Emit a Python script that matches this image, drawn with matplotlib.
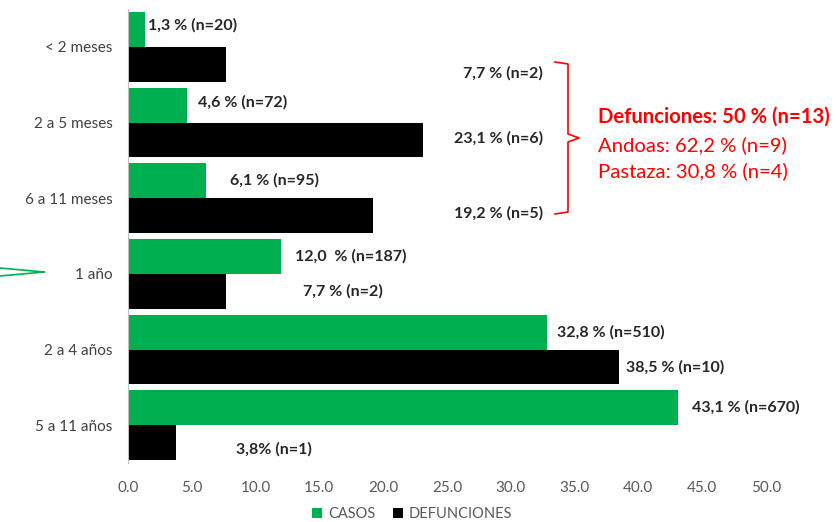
import matplotlib.pyplot as plt
import numpy as np
from matplotlib.lines import Line2D

plt.rcParams['font.family'] = ['Lato', 'DejaVu Sans']

categorias = ['< 2 meses', '2 a 5 meses', '6 a 11 meses', '1 año', '2 a 4 años', '5 a 11 años']
casos = [1.3, 4.6, 6.1, 12.0, 32.8, 43.1]
defunciones = [7.7, 23.1, 19.2, 7.7, 38.5, 3.8]
etiq_casos = ['1,3 % (n=20)', '4,6 % (n=72)', '6,1 % (n=95)', '12,0  % (n=187)',
              '32,8 % (n=510)', '43,1 % (n=670)']
etiq_def = ['7,7 % (n=2)', '23,1 % (n=6)', '19,2 % (n=5)', '7,7 % (n=2)',
            '38,5 % (n=10)', '3,8% (n=1)']
xticks = np.arange(0, 50.1, 5)

# label positions (moved by hand in the original)
lx_casos = [1.6, 5.5, 8.0, 13.1, 33.6, 44.2]
ly_casos = [-0.05, -0.03, 0, 0, 0, 0]
lx_def = [32.5, 32.5, 32.5, 13.7, 39.0, 8.5]
ly_def = [0.12, -0.02, -0.03, 0, 0, 0.09]
ha_def = ['right', 'right', 'right', 'left', 'left', 'left']

verde = '#00B050'
W, H = 836, 522
fig = plt.figure(figsize=(W / 100, H / 100), dpi=100)
ax = fig.add_axes([128 / W, 1 - 463 / H, 638 / W, 454 / H])

y = np.arange(len(categorias))
h = 0.46
ax.barh(y - h / 2, casos, height=h, color=verde, label='CASOS')
ax.barh(y + h / 2, defunciones, height=h, color='black', label='DEFUNCIONES')
ax.set_ylim(len(categorias) - 0.5, -0.5)
ax.set_xlim(0, 50)

for i in range(len(categorias)):
    ax.text(lx_casos[i], y[i] - h / 2 + ly_casos[i], etiq_casos[i], ha='left', va='center',
            fontsize=11.5, fontweight='bold', color='#262626')
    ax.text(lx_def[i], y[i] + h / 2 + ly_def[i], etiq_def[i], ha=ha_def[i], va='center',
            fontsize=11.5, fontweight='bold', color='#262626')

ax.set_yticks(y)
ax.set_yticklabels(categorias, fontsize=11, color='#404040')
ax.set_xticks(xticks)
ax.set_xticklabels([f'{v:.1f}' for v in xticks], fontsize=11, color='#595959')
ax.tick_params(length=0, axis='both')
ax.tick_params(axis='y', pad=11)
ax.tick_params(axis='x', pad=13)
for s in ['top', 'right', 'bottom']:
    ax.spines[s].set_visible(False)
ax.spines['left'].set_color('#BFBFBF')

fig.legend(*ax.get_legend_handles_labels(), loc='center', bbox_to_anchor=(412 / W, 1 - 514 / H),
           ncol=2, frameon=False, fontsize=10.5, handlelength=0.7, handleheight=0.7,
           columnspacing=1.2, handletextpad=0.4, labelcolor='#595959', borderpad=0)

# red brace
rojo = '#FF0000'
def px(xp, yp):
    return xp / W, 1 - yp / H
bx = [555, 568, 568, 579, 568, 568, 555]
by = [62, 64, 134, 138, 142, 212, 214]
pts = [px(a, b) for a, b in zip(bx, by)]
fig.add_artist(Line2D([p[0] for p in pts], [p[1] for p in pts], color=rojo, lw=1.2,
                      transform=fig.transFigure))
fig.text(598 / W, 1 - 117 / H, 'Defunciones: 50 % (n=13)', color=rojo, fontsize=14.6,
         fontweight='bold', va='center')
fig.text(598 / W, 1 - 145 / H, 'Andoas: 62,2 % (n=9)', color=rojo, fontsize=14.6, va='center')
fig.text(598 / W, 1 - 171 / H, 'Pastaza: 30,8 % (n=4)', color=rojo, fontsize=14.6, va='center')

# green arrow tip at left
for (x0, y0) in [(0, 268), (0, 276)]:
    p0, p1 = px(x0, y0), px(44, 272)
    fig.add_artist(Line2D([p0[0], p1[0]], [p0[1], p1[1]], color=verde, lw=1.2,
                          transform=fig.transFigure))

fig.savefig('out.png', dpi=100)
